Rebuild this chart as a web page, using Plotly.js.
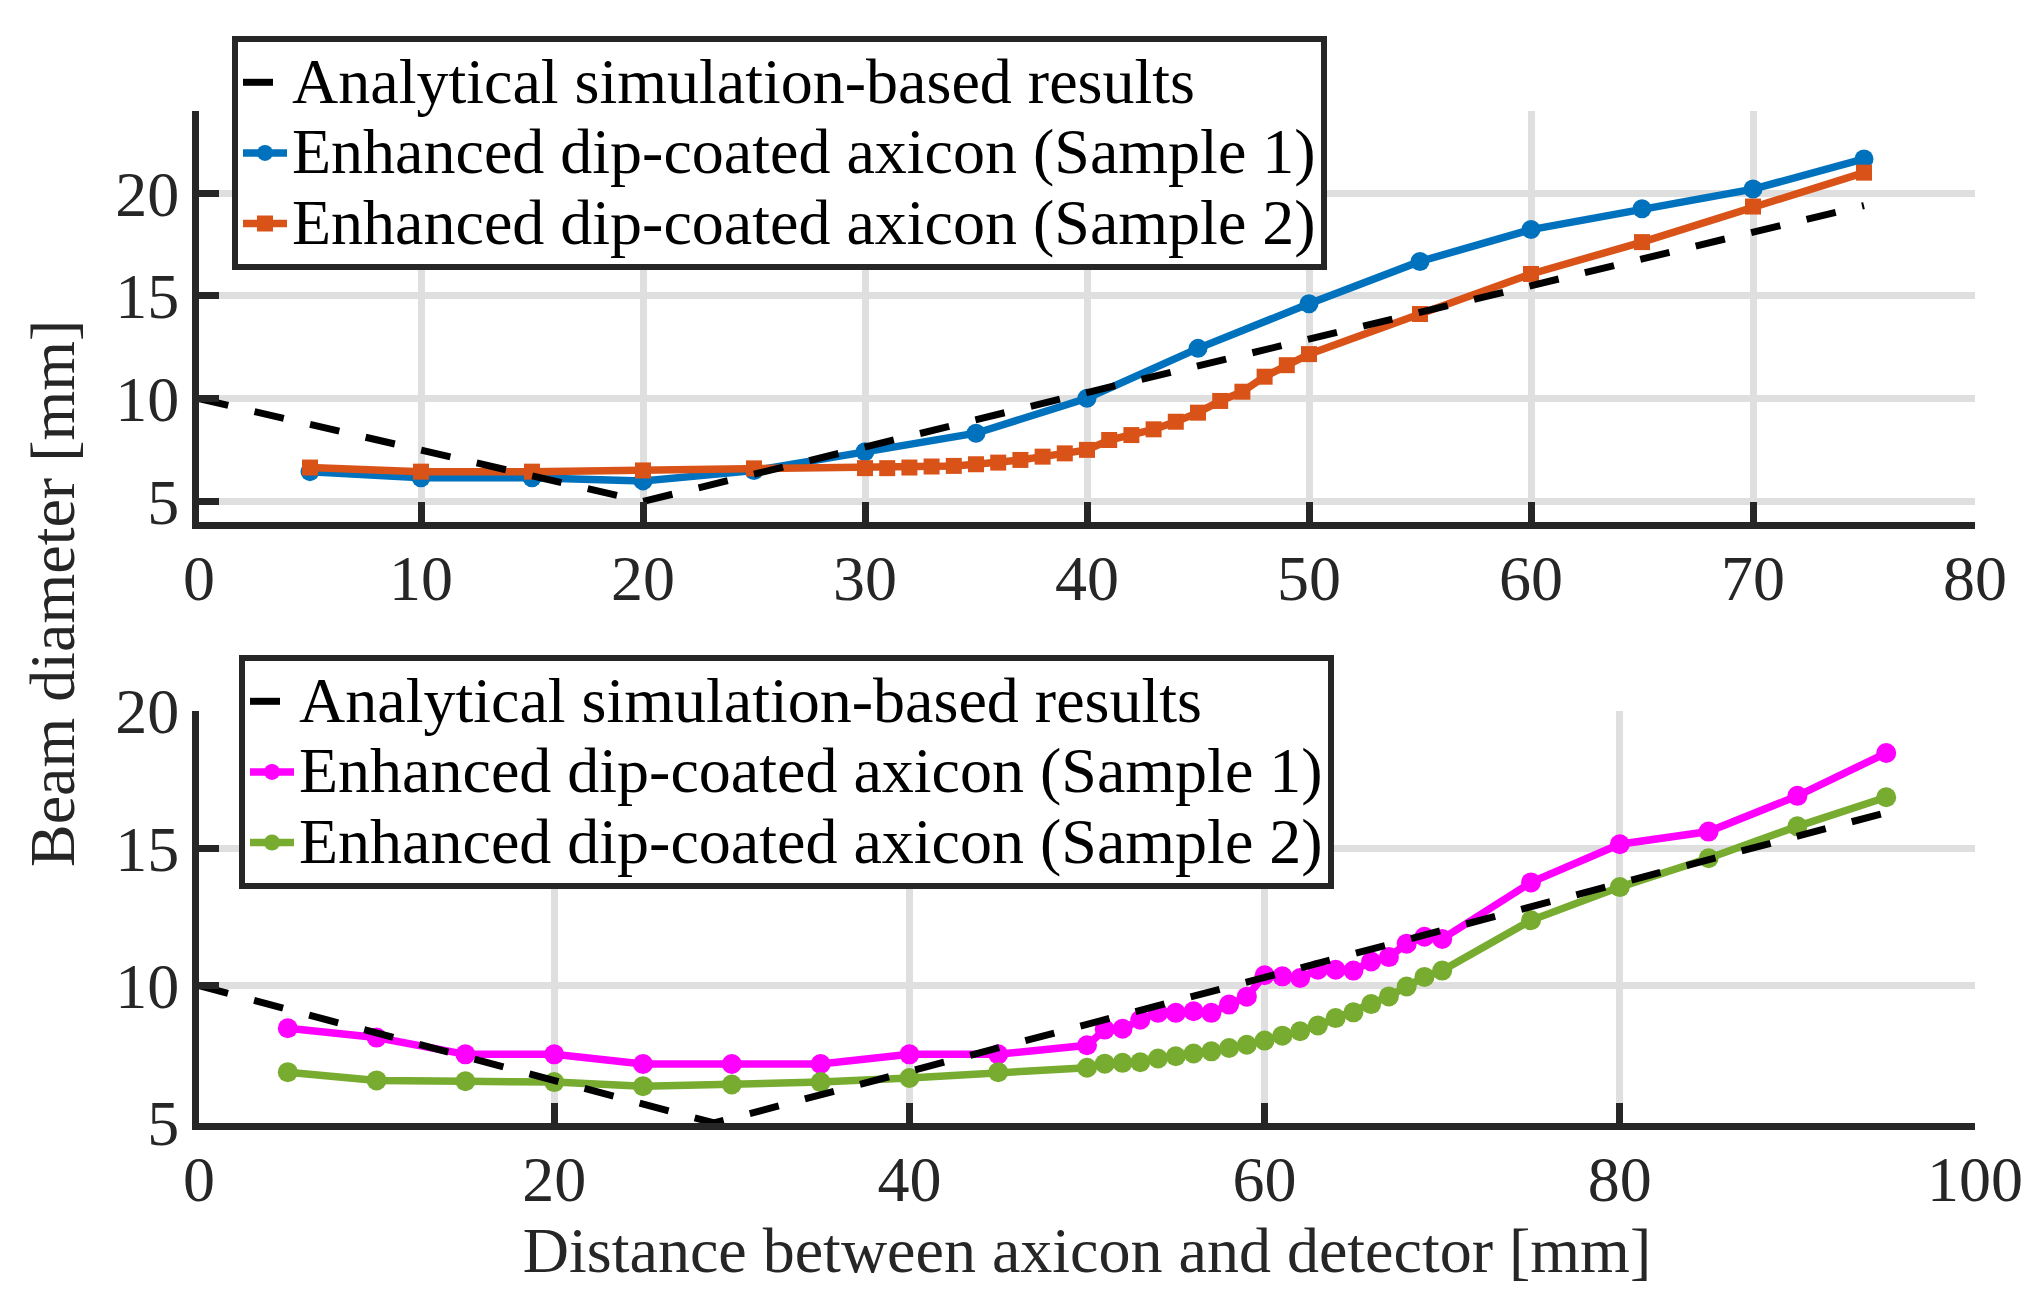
<!DOCTYPE html>
<html>
<head>
<meta charset="utf-8">
<script src="https://cdn.plot.ly/plotly-3.0.1.min.js"></script>
<style>
  html, body { margin: 0; padding: 0; background: #ffffff; }
  #chart { width: 2037px; height: 1301px; }
</style>
</head>
<body>
<div id="chart"></div>
<script>
// ---------- Top panel data ----------
const topAnalyticalX = [0, 20, 40, 60, 75];
const topAnalyticalY = [10, 5, 10.3, 15.5, 19.4];

const topS1X = [5, 10, 15, 20, 25, 30, 35, 40, 45, 50, 55, 60, 65, 70, 75];
const topS1Y = [6.45, 6.15, 6.15, 6.0, 6.5, 7.42, 8.32, 10.02, 12.45, 14.62, 16.68, 18.23, 19.24, 20.2, 21.67];

const topS2X = [5, 10, 15, 20, 25,
  30, 31, 32, 33, 34, 35, 36, 37, 38, 39, 40,
  41, 42, 43, 44, 45, 46, 47, 48, 49, 50,
  55, 60, 65, 70, 75];
const topS2Y = [6.65, 6.45, 6.45, 6.51, 6.61,
  6.62, 6.62, 6.65, 6.70, 6.73, 6.81, 6.89, 7.02, 7.18, 7.34, 7.51,
  7.99, 8.23, 8.51, 8.88, 9.32, 9.89, 10.34, 11.07, 11.63, 12.17,
  14.12, 16.07, 17.62, 19.35, 21.0];

// ---------- Bottom panel data ----------
const botAnalyticalX = [0, 29, 60, 80, 95];
const botAnalyticalY = [10, 5, 10.3, 13.7, 16.3];

const botX = [5, 10, 15, 20, 25, 30, 35, 40, 45, 50,
  51, 52, 53, 54, 55, 56, 57, 58, 59, 60,
  61, 62, 63, 64, 65, 66, 67, 68, 69, 70,
  75, 80, 85, 90, 95];
const botS1Y = [8.45, 8.11, 7.50, 7.50, 7.15, 7.15, 7.15, 7.50, 7.50, 7.83,
  8.40, 8.43, 8.76, 9.01, 9.01, 9.07, 9.01, 9.31, 9.60, 10.38,
  10.34, 10.28, 10.58, 10.58, 10.55, 10.88, 11.04, 11.53, 11.78, 11.70,
  13.76, 15.15, 15.61, 16.91, 18.47];
const botS2Y = [6.85, 6.55, 6.52, 6.49, 6.34, 6.40, 6.49, 6.64, 6.85, 7.01,
  7.16, 7.19, 7.21, 7.35, 7.43, 7.53, 7.61, 7.73, 7.85, 8.00,
  8.18, 8.34, 8.55, 8.82, 9.03, 9.33, 9.61, 9.97, 10.32, 10.55,
  12.38, 13.59, 14.64, 15.80, 16.86];

// ---------- Labels ----------
const legendNames = [
  'Analytical simulation-based results',
  'Enhanced dip-coated axicon (Sample 1)',
  'Enhanced dip-coated axicon (Sample 2)'
];
const topXTicks = [0, 10, 20, 30, 40, 50, 60, 70, 80];
const topYTicks = [5, 10, 15, 20];
const botXTicks = [0, 20, 40, 60, 80, 100];
const botYTicks = [5, 10, 15, 20];
const yTitle = 'Beam diameter [mm]';
const xTitle = 'Distance between axicon and detector [mm]';

// ---------- Styling ----------
const FONT = '"Liberation Serif", "Times New Roman", serif';
const AX = '#262626';
const GRID = '#dfdfdf';
const TICKSIZE = 64;
const LEGSIZE = 64;
const wrap = s => '<span style="font-size:' + LEGSIZE + 'px">' + s + '</span>';

const traces = [
  { x: topS1X, y: topS1Y, xaxis: 'x', yaxis: 'y', name: wrap(legendNames[1]), legend: 'legend', legendrank: 2,
    mode: 'lines+markers', line: { color: '#0072BD', width: 7.5 }, marker: { color: '#0072BD', size: 19, symbol: 'circle' } },
  { x: topS2X, y: topS2Y, xaxis: 'x', yaxis: 'y', name: wrap(legendNames[2]), legend: 'legend', legendrank: 3,
    mode: 'lines+markers', line: { color: '#D95319', width: 7.5 }, marker: { color: '#D95319', size: 16, symbol: 'square' } },
  { x: topAnalyticalX, y: topAnalyticalY, xaxis: 'x', yaxis: 'y', name: wrap(legendNames[0]), legend: 'legend', legendrank: 1,
    mode: 'lines', line: { color: '#000000', width: 7, dash: '30px,27px' } },

  { x: botX, y: botS1Y, xaxis: 'x2', yaxis: 'y2', name: wrap(legendNames[1]), legend: 'legend2', legendrank: 2,
    mode: 'lines+markers', line: { color: '#FF00FF', width: 7.5 }, marker: { color: '#FF00FF', size: 20, symbol: 'circle' } },
  { x: botX, y: botS2Y, xaxis: 'x2', yaxis: 'y2', name: wrap(legendNames[2]), legend: 'legend2', legendrank: 3,
    mode: 'lines+markers', line: { color: '#77AC30', width: 7.5 }, marker: { color: '#77AC30', size: 20, symbol: 'circle' } },
  { x: botAnalyticalX, y: botAnalyticalY, xaxis: 'x2', yaxis: 'y2', name: wrap(legendNames[0]), legend: 'legend2', legendrank: 1,
    mode: 'lines', line: { color: '#000000', width: 7, dash: '30px,27px' } }
];

function axisBase(extra) {
  return Object.assign({
    showline: true, linecolor: AX, linewidth: 7, mirror: false,
    showgrid: true, gridcolor: GRID, gridwidth: 7,
    zeroline: false,
    ticks: 'inside', ticklen: 20, tickwidth: 7, tickcolor: AX,
    tickfont: { family: FONT, size: TICKSIZE, color: AX },
    fixedrange: true
  }, extra);
}

const xDom = [199 / 2037, 1975 / 2037];
const legendCommon = {
  xanchor: 'left', yanchor: 'top',
  bgcolor: '#ffffff', bordercolor: AX, borderwidth: 6,
  font: { family: FONT, size: 52, color: '#000000' },
  itemwidth: 44, traceorder: 'normal', itemclick: false, itemdoubleclick: false
};

const layout = {
  width: 2037, height: 1301,
  margin: { l: 0, r: 0, t: 0, b: 0 },
  paper_bgcolor: '#ffffff', plot_bgcolor: '#ffffff',
  font: { family: FONT, color: '#000000' },
  showlegend: true,
  xaxis: axisBase({ domain: xDom, anchor: 'y', range: [0, 80], tickmode: 'array', tickvals: topXTicks, ticktext: topXTicks.map(String), ticklabelstandoff: -6 }),
  yaxis: axisBase({ domain: [(1301 - 522) / 1301, (1301 - 111) / 1301], anchor: 'x', range: [4, 24], tickmode: 'array', tickvals: topYTicks, ticktext: topYTicks.map(String) }),
  xaxis2: axisBase({ domain: xDom, anchor: 'y2', range: [0, 100], tickmode: 'array', tickvals: botXTicks, ticktext: botXTicks.map(String), ticklabelstandoff: -6,
    title: { text: xTitle, font: { family: FONT, size: 64, color: AX }, standoff: 12 } }),
  yaxis2: axisBase({ domain: [(1301 - 1123) / 1301, (1301 - 711) / 1301], anchor: 'x2', range: [5, 20], tickmode: 'array', tickvals: botYTicks, ticktext: botYTicks.map(String) }),
  legend: Object.assign({ x: 232 / 2037, y: (1301 - 36) / 1301 }, legendCommon),
  legend2: Object.assign({ x: 239 / 2037, y: (1301 - 655) / 1301 }, legendCommon),
  annotations: [
    { text: yTitle, xref: 'paper', yref: 'paper', x: 52 / 2037, y: (1301 - 594) / 1301,
      xanchor: 'center', yanchor: 'middle', textangle: -90, showarrow: false,
      font: { family: FONT, size: 64, color: AX } }
  ]
};

Plotly.newPlot('chart', traces, layout, { displayModeBar: false, staticPlot: true });
</script>
</body>
</html>
